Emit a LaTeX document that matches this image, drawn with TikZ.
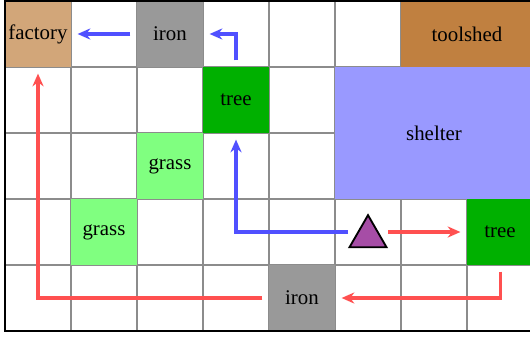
\documentclass[tikz,border=0pt]{standalone}
\usepackage{fontspec}
\setmainfont{Liberation Serif}
\usetikzlibrary{arrows.meta,calc}
\definecolor{factoryc}{HTML}{D2A679}
\definecolor{toolshedc}{HTML}{C08040}
\definecolor{ironc}{HTML}{999999}
\definecolor{treec}{HTML}{00B000}
\definecolor{grassc}{HTML}{80FF80}
\definecolor{shelterc}{HTML}{9999FF}
\definecolor{agentc}{HTML}{A64DA6}
\definecolor{bluec}{HTML}{5050FF}
\definecolor{redc}{HTML}{FF5050}
\tikzset{
  cell/.style={minimum width=1cm, minimum height=1cm, inner sep=0pt, outer sep=0pt,
    font=\fontsize{9}{11}\selectfont, text=black},
  gridline/.style={draw=gray!90, line width=0.5pt},
  conn/.style={line width=1.3pt, -{Stealth[length=5.5pt,width=4.8pt]},
    shorten <=0.1cm, shorten >=0.1cm},
  blueconn/.style={conn, draw=bluec},
  redconn/.style={conn, draw=redc},
}
\begin{document}
\begin{tikzpicture}
\useasboundingbox (-0.0758,-0.0909) rectangle (7.9545,5.0152);
\draw[gridline] (0,0) grid (8,5);
% cells
\node[cell, fill=factoryc] (factory) at (0.5,4.5) {factory};
\node[cell, fill=ironc] (ironA) at (2.5,4.5) {iron};
\node[cell, fill=toolshedc, minimum width=2cm] (toolshed) at (7,4.5) {toolshed};
\node[cell, fill=treec] (treeA) at (3.5,3.5) {tree};
\node[cell, fill=shelterc, minimum width=3cm, minimum height=2cm] (shelter) at (6.5,3) {shelter};
\node[cell, fill=grassc] (grassA) at (2.5,2.5) {grass};
\node[cell, fill=grassc] (grassB) at (1.5,1.5) {grass};
\node[cell] (agent) at (5.5,1.5) {};
\node[cell, fill=treec] (treeB) at (7.5,1.5) {tree};
\node[cell, fill=ironc] (ironB) at (4.5,0.5) {iron};
% agent
\draw[fill=agentc, draw=black, line width=0.8pt, line join=miter]
  ($(agent.center)+(-0.28,-0.23)$) -- ($(agent.center)+(0.28,-0.23)$) -- ($(agent.center)+(0,0.255)$) -- cycle;
% border
\draw[black, line width=1.2pt] (0,0) rectangle (8,5);
% connectors
\draw[blueconn] (ironA.west) -- (factory.east);
\draw[blueconn] (treeA.north) |- (ironA.east);
\draw[blueconn, shorten <=-0.2cm] (agent.west) -| (treeA.south);
\draw[redconn, shorten <=-0.2cm] (agent.east) -- (treeB.west);
\draw[redconn] (treeB.south) |- (ironB.east);
\draw[redconn] (ironB.west) -| (factory.south);
\end{tikzpicture}
\end{document}
